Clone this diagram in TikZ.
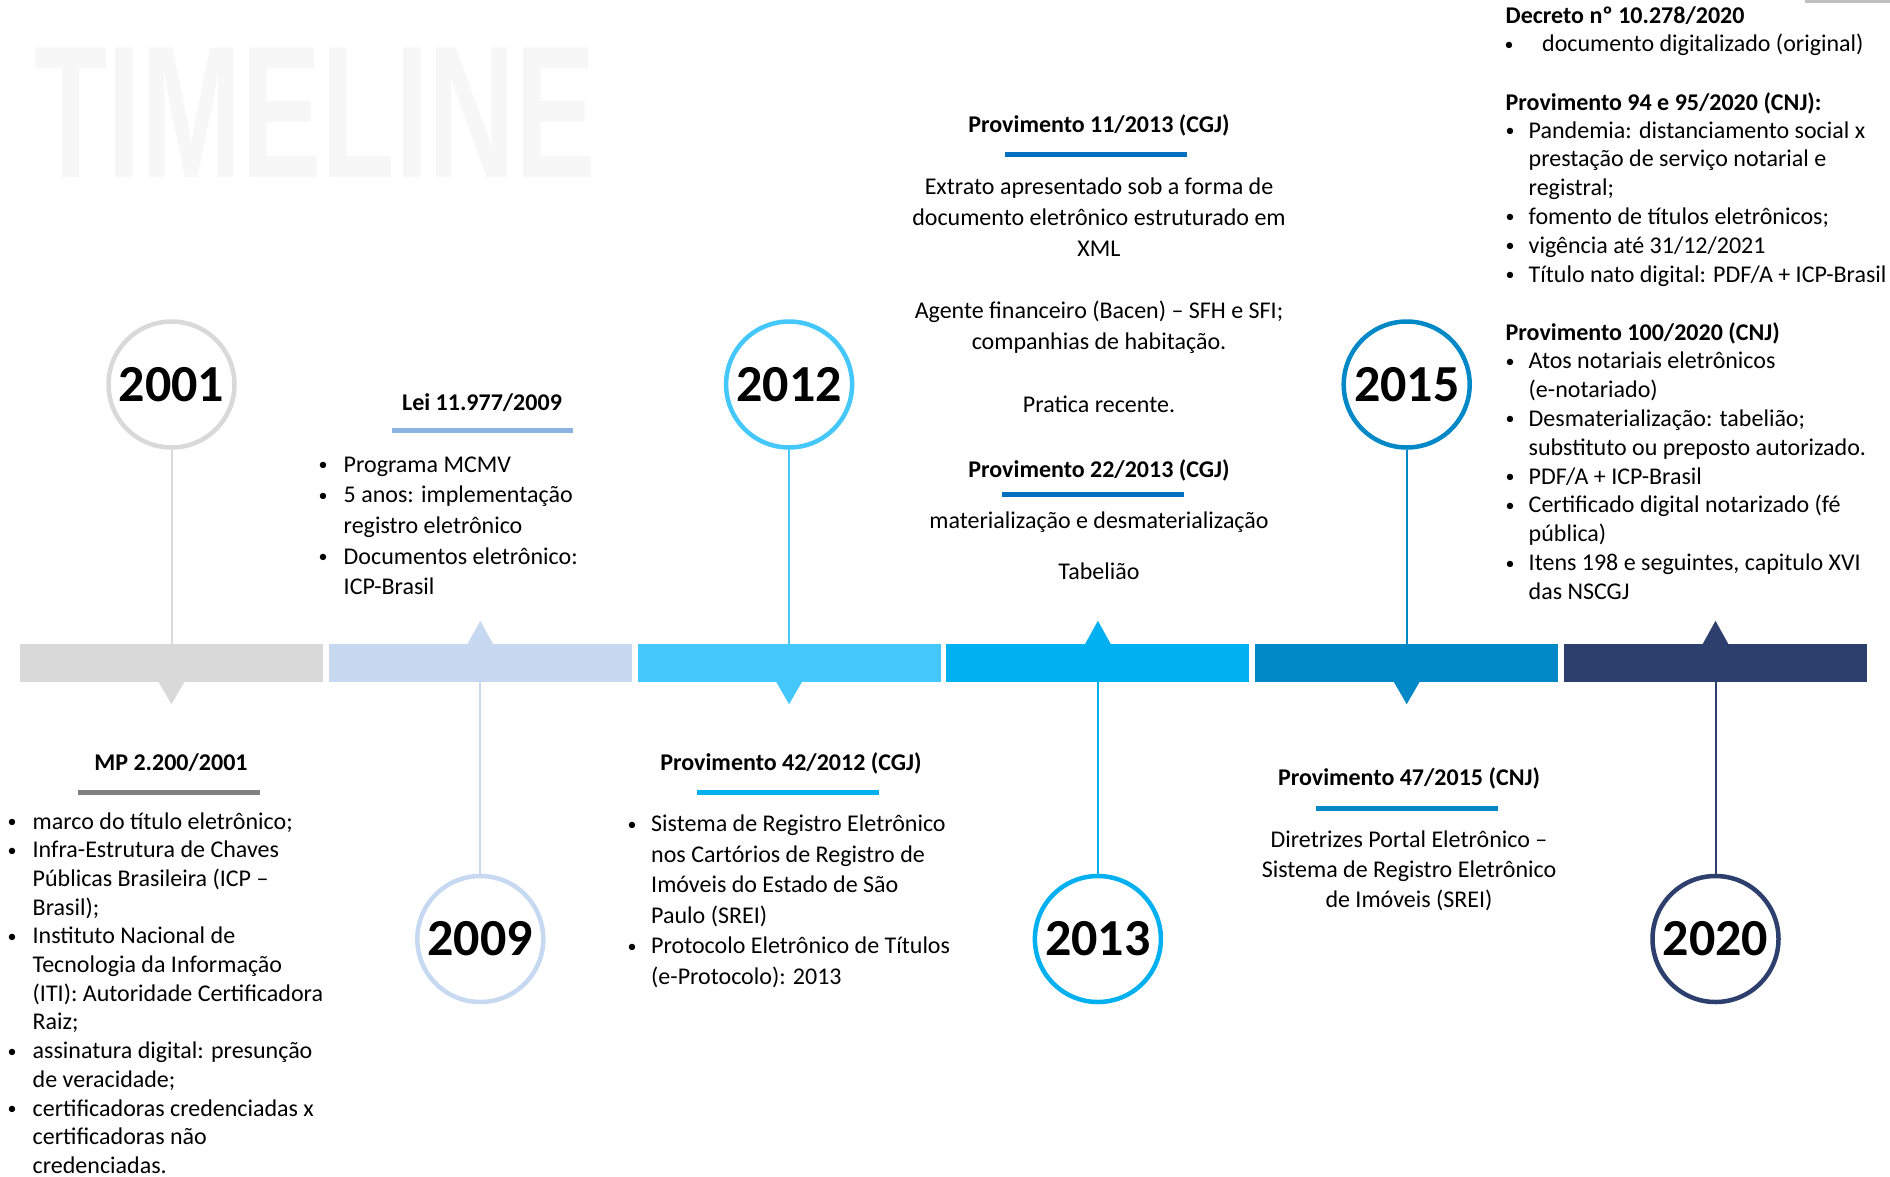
\documentclass[tikz,border=0pt]{standalone}
\usepackage{fontspec}
\setmainfont{Carlito}
\newfontfamily\wmfont{Liberation Sans}
\definecolor{wm}{RGB}{247,247,247}
\definecolor{cA}{HTML}{D9D9D9}
\definecolor{cB}{HTML}{C6D9F1}
\definecolor{cC}{HTML}{44C8FC}
\definecolor{cD}{HTML}{00B0F0}
\definecolor{cE}{HTML}{0089C6}
\definecolor{cF}{HTML}{2C3F6D}
\definecolor{ulA}{HTML}{808080}
\definecolor{ulB}{HTML}{8DB3E2}
\definecolor{ulD}{HTML}{0070C0}
\definecolor{topmark}{HTML}{BFBFBF}
\newcommand\mybul[1]{\llap{\makebox[#1][c]{\raisebox{1.5pt}{\scalebox{0.75}{•}}}}}
\newcommand\txtblock[6]{%
  \foreach \myline [count=\myi] in {#6}{%
    \node[txt, anchor=#2] (#1\myi) at ({#3},{#4+(\myi-1)*#5}) {\myline};
  }}
\begin{document}
\begin{tikzpicture}[x=1pt,y=-1pt,
  txt/.style={inner sep=0pt, font=\fontsize{24}{29}\selectfont},
  hd/.style={inner sep=0pt, font=\bfseries\fontsize{24}{29}\selectfont},
  seg/.style={inner sep=0pt, minimum width=303pt, minimum height=38pt, draw=none},
  yr/.style={circle, fill=white, line width=4.5pt, minimum size=126pt, inner sep=0pt, font=\bfseries\fontsize{52}{52}\selectfont},
  conn/.style={line width=2pt}]
\useasboundingbox (0,0) rectangle (1890,1176);
\fill[white] (0,0) rectangle (1890,1176);
% watermark
\node[inner sep=0pt, anchor=base west, text=wm] (wmark) at (34,177)
  {\scalebox{0.665}[1.04]{\wmfont\bfseries\fontsize{181}{181}\selectfont TIMELINE}};
% top right mark
\fill[topmark] (1805,0) rectangle (1890,2.5);

% bar segments
\node[seg, fill=cA] (s1) at (171.5,663) {};
\node[seg, fill=cB] (s2) at (480.3,663) {};
\node[seg, fill=cC] (s3) at (789.1,663) {};
\node[seg, fill=cD] (s4) at (1097.9,663) {};
\node[seg, fill=cE] (s5) at (1406.7,663) {};
\node[seg, fill=cF] (s6) at (1715.5,663) {};

% year circles
\node[yr, draw=cA] (y2001) at (171.5,384.5) {2001};
\node[yr, draw=cB] (y2009) at (480.3,939) {2009};
\node[yr, draw=cC] (y2012) at (789.1,384.5) {2012};
\node[yr, draw=cD] (y2013) at (1097.9,939) {2013};
\node[yr, draw=cE] (y2015) at (1406.7,384.5) {2015};
\node[yr, draw=cF] (y2020) at (1715.5,939) {2020};

% connectors
\draw[conn, cA] (y2001) -- (y2001 |- s1.north);
\draw[conn, cB] (y2009) -- (y2009 |- s2.south);
\draw[conn, cC] (y2012) -- (y2012 |- s3.north);
\draw[conn, cD] (y2013) -- (y2013 |- s4.south);
\draw[conn, cE] (y2015) -- (y2015 |- s5.north);
\draw[conn, cF] (y2020) -- (y2020 |- s6.south);

% pointers
\fill[cA] (s1.south) ++(-13,-0.5) -- ++(13,22.5) -- ++(13,-22.5) -- cycle;
\fill[cB] (s2.north) ++(-13,0.5) -- ++(13,-23.5) -- ++(13,23.5) -- cycle;
\fill[cC] (s3.south) ++(-13,-0.5) -- ++(13,22.5) -- ++(13,-22.5) -- cycle;
\fill[cD] (s4.north) ++(-13,0.5) -- ++(13,-23.5) -- ++(13,23.5) -- cycle;
\fill[cE] (s5.south) ++(-13,-0.5) -- ++(13,22.5) -- ++(13,-22.5) -- cycle;
\fill[cF] (s6.north) ++(-13,0.5) -- ++(13,-23.5) -- ++(13,23.5) -- cycle;

% ---- MP 2.200/2001
\node[hd, anchor=base] (hmp) at (171,770) {MP 2.200/2001};
\fill[ulA] (78,789.5) rectangle (260,794.5);
\txtblock{mp}{base west}{32.5}{829}{28.7}{%
  {\mybul{41pt}marco do título eletrônico;},
  {\mybul{41pt}Infra-Estrutura de Chaves},
  {Públicas Brasileira (ICP –},
  {Brasil);},
  {\mybul{41pt}Instituto Nacional de},
  {Tecnologia da Informação},
  {(ITI): Autoridade Certificadora},
  {Raiz;},
  {\mybul{41pt}assinatura digital: presunção},
  {de veracidade;},
  {\mybul{41pt}certificadoras credenciadas x},
  {certificadoras não},
  {credenciadas.}}

% ---- Lei 11.977/2009
\node[hd, anchor=base] (hlei) at (482,410) {Lei 11.977/2009};
\fill[ulB] (392,428) rectangle (573,433);
\txtblock{lei}{base west}{343.5}{472}{30.7}{%
  {\mybul{41pt}Programa MCMV},
  {\mybul{41pt}5 anos: implementação},
  {registro eletrônico},
  {\mybul{41pt}Documentos eletrônico:},
  {ICP-Brasil}}

% ---- Provimento 42/2012
\node[hd, anchor=base] (hp42) at (791,770) {Provimento 42/2012 (CGJ)};
\fill[cD] (697,790) rectangle (879,795);
\txtblock{pa}{base west}{651}{831.5}{30.6}{%
  {\mybul{38pt}Sistema de Registro Eletrônico},
  {nos Cartórios de Registro de},
  {Imóveis do Estado de São},
  {Paulo (SREI)},
  {\mybul{38pt}Protocolo Eletrônico de Títulos},
  {(e-Protocolo): 2013}}

% ---- Provimento 11/2013 and 22/2013
\node[hd, anchor=base] (hp11) at (1099,132) {Provimento 11/2013 (CGJ)};
\fill[ulD] (1005,151.5) rectangle (1187,156.5);
\node[txt, anchor=base] (pb1) at (1099,194) {Extrato apresentado sob a forma de};
\node[txt, anchor=base] (pb2) at (1099,225) {documento eletrônico estruturado em};
\node[txt, anchor=base] (pb3) at (1099,256.5) {XML};
\node[txt, anchor=base] (pb4) at (1099,318) {Agente financeiro (Bacen) – SFH e SFI;};
\node[txt, anchor=base] (pb5) at (1099,349) {companhias de habitação.};
\node[txt, anchor=base] (pb6) at (1099,412) {Pratica recente.};
\node[hd, anchor=base] (hp22) at (1099,477) {Provimento 22/2013 (CGJ)};
\fill[ulD] (1002,491.5) rectangle (1184,496.5);
\node[txt, anchor=base] (pc1) at (1099,528) {materialização e desmaterialização};
\node[txt, anchor=base] (pc2) at (1099,579.5) {Tabelião};

% ---- Provimento 47/2015
\node[hd, anchor=base] (hp47) at (1409,785) {Provimento 47/2015 (CNJ)};
\fill[cE] (1316,805.5) rectangle (1498,810.5);
\txtblock{pd}{base}{1409}{847}{30.3}{%
  {Diretrizes Portal Eletrônico –},
  {Sistema de Registro Eletrônico},
  {de Imóveis (SREI)}}

% ---- 2020 column
\node[hd, anchor=base west] (hdec) at (1505.5,23) {Decreto nº 10.278/2020};
\node[txt, anchor=base west] (dec1) at (1542,51.6) {\mybul{66pt}documento digitalizado (original)};
\node[hd, anchor=base west] (hp94) at (1505.5,110) {Provimento 94 e 95/2020 (CNJ):};
\txtblock{pe}{base west}{1528.5}{138}{28.8}{%
  {\mybul{37pt}Pandemia: distanciamento social x},
  {prestação de serviço notarial e},
  {registral;},
  {\mybul{37pt}fomento de títulos eletrônicos;},
  {\mybul{37pt}vigência até 31/12/2021},
  {\mybul{37pt}Título nato digital: PDF/A + ICP-Brasil}}
\node[hd, anchor=base west] (hp100) at (1505.5,340) {Provimento 100/2020 (CNJ)};
\txtblock{pf}{base west}{1528.5}{368.6}{28.85}{%
  {\mybul{37pt}Atos notariais eletrônicos},
  {(e-notariado)},
  {\mybul{37pt}Desmaterialização: tabelião;},
  {substituto ou preposto autorizado.},
  {\mybul{37pt}PDF/A + ICP-Brasil},
  {\mybul{37pt}Certificado digital notarizado (fé},
  {pública)},
  {\mybul{37pt}Itens 198 e seguintes, capitulo XVI},
  {das NSCGJ}}
\end{tikzpicture}
\end{document}
